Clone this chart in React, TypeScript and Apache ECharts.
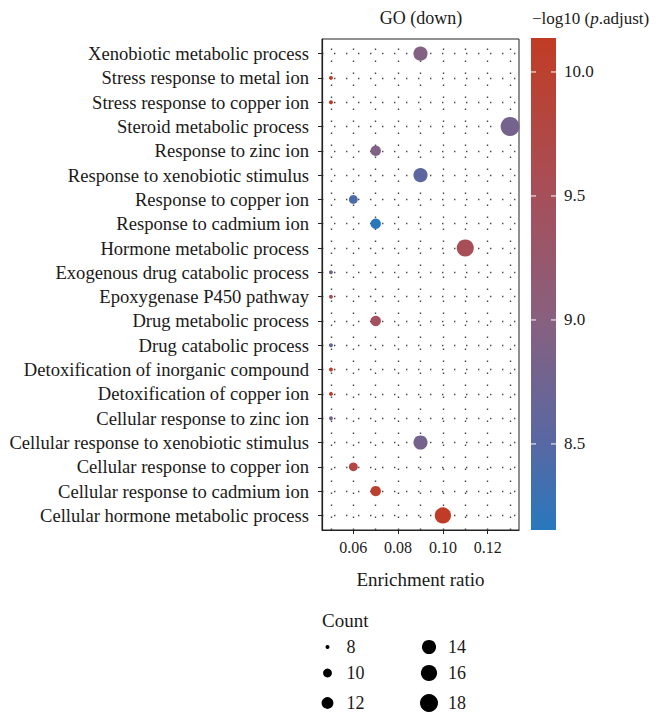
import { useEffect, useRef } from "react";
import * as echarts from "echarts";

// ---- data (top row first, as in the picture) ----
const categories = [
  "Xenobiotic metabolic process",
  "Stress response to metal ion",
  "Stress response to copper ion",
  "Steroid metabolic process",
  "Response to zinc ion",
  "Response to xenobiotic stimulus",
  "Response to copper ion",
  "Response to cadmium ion",
  "Hormone metabolic process",
  "Exogenous drug catabolic process",
  "Epoxygenase P450 pathway",
  "Drug metabolic process",
  "Drug catabolic process",
  "Detoxification of inorganic compound",
  "Detoxification of copper ion",
  "Cellular response to zinc ion",
  "Cellular response to xenobiotic stimulus",
  "Cellular response to copper ion",
  "Cellular response to cadmium ion",
  "Cellular hormone metabolic process",
];
const enrichmentRatio = [0.09, 0.05, 0.05, 0.13, 0.07, 0.09, 0.06, 0.07, 0.11, 0.05, 0.05, 0.07, 0.05, 0.05, 0.05, 0.05, 0.09, 0.06, 0.07, 0.10];
const geneCount = [14, 8, 8, 19, 11, 14, 10, 11, 17, 8, 8, 11, 8, 8, 8, 8, 14, 10, 11, 16];
const negLog10Padj = [8.95, 10.12, 10.12, 8.8, 8.92, 8.55, 8.42, 8.16, 9.55, 8.82, 9.47, 9.45, 8.62, 10.1, 10.1, 8.8, 8.8, 9.8, 10.02, 10.1];

const xTicks = [0.06, 0.08, 0.1, 0.12];
const xGridValues = [0.05, 0.06, 0.07, 0.08, 0.09, 0.1, 0.11, 0.12, 0.13];
const colorTicks = [10.0, 9.5, 9.0, 8.5];
const countBreaks = [8, 10, 12, 14, 16, 18];

// colour scale
const colorMin = 8.153;
const colorMax = 10.137;
const colorStops: [number, string][] = [
  [8.153, "#2878bd"],
  [8.5, "#5768a3"],
  [9.0, "#88607f"],
  [9.5, "#a64f5a"],
  [10.0, "#bb412f"],
  [10.137, "#c13b24"],
];

const FONT = "Liberation Serif";
const TXT = "#1a1a1a";

function hexToRgb(h: string) {
  const n = parseInt(h.slice(1), 16);
  return [(n >> 16) & 255, (n >> 8) & 255, n & 255];
}
function colorAt(v: number) {
  for (let i = 0; i < colorStops.length - 1; i++) {
    const [a, ca] = colorStops[i];
    const [b, cb] = colorStops[i + 1];
    if (v <= b || i === colorStops.length - 2) {
      const t = Math.max(0, Math.min(1, (v - a) / (b - a)));
      const A = hexToRgb(ca), B = hexToRgb(cb);
      const c = A.map((x, k) => Math.round(x + (B[k] - x) * t));
      return `rgb(${c[0]},${c[1]},${c[2]})`;
    }
  }
  return colorStops[colorStops.length - 1][1];
}
const sizeFor = (c: number) => Math.sqrt(Math.max(0, 16 + 30.8 * (c - 8)));

export default function App() {
  const ref = useRef<HTMLDivElement>(null);
  useEffect(() => {
    document.body.style.margin = "0";
    if (!ref.current) return;
    const chart = echarts.init(ref.current, null, { renderer: "svg" });
    const n = categories.length;
    const data = categories.map((_, i) => [enrichmentRatio[i], n - i, negLog10Padj[i], geneCount[i]]);

    const gridLeft = 322, gridTop = 39, gridW = 197, gridH = 491;

    const inRange: string[] = [];
    const N = 60;
    for (let i = 0; i <= N; i++) inRange.push(colorAt(colorMin + ((colorMax - colorMin) * i) / N));

    // colour bar
    const cbX = 531, cbY = 38, cbW = 25, cbH = 492;
    const cbGraphics: any[] = [
      {
        type: "rect",
        shape: { x: cbX, y: cbY, width: cbW, height: cbH },
        style: {
          fill: {
            type: "linear", x: 0, y: 1, x2: 0, y2: 0,
            colorStops: colorStops.map(([v, c]) => ({ offset: (v - colorMin) / (colorMax - colorMin), color: c })),
          },
        },
      },
    ];
    colorTicks.forEach((v) => {
      const y = cbY + ((colorMax - v) / (colorMax - colorMin)) * cbH;
      cbGraphics.push(
        { type: "line", shape: { x1: cbX, y1: y, x2: cbX + 5, y2: y }, style: { stroke: "#fff", lineWidth: 1 } },
        { type: "line", shape: { x1: cbX + cbW - 5, y1: y, x2: cbX + cbW, y2: y }, style: { stroke: "#fff", lineWidth: 1 } },
        { type: "text", x: cbX + cbW + 8, y, style: { text: v.toFixed(1), font: `17px ${FONT}`, fill: TXT, textVerticalAlign: "middle" } }
      );
    });

    // size legend
    const legendGraphics: any[] = [
      { type: "text", x: 322, y: 620, style: { text: "Count", font: `19px ${FONT}`, fill: TXT, textVerticalAlign: "middle" } },
    ];
    const rowY = [647, 673, 703];
    countBreaks.forEach((c, i) => {
      const col = Math.floor(i / 3);
      const r = i % 3;
      const cx = col === 0 ? 327.5 : 429;
      legendGraphics.push(
        { type: "circle", shape: { cx, cy: rowY[r], r: sizeFor(c) / 2 }, style: { fill: "#000" } },
        { type: "text", x: cx + 19, y: rowY[r], style: { text: String(c), font: `18px ${FONT}`, fill: TXT, textVerticalAlign: "middle" } }
      );
    });

    const dotted = { color: "#333", width: 1.4, opacity: 0.9, type: [1.4, 10.6] };

    chart.setOption({
      animation: false,
      backgroundColor: "#fff",
      textStyle: { fontFamily: FONT, color: TXT },
      grid: { left: gridLeft, top: gridTop, width: gridW, height: gridH, show: true, borderColor: "#222", borderWidth: 1, backgroundColor: "transparent" },
      xAxis: {
        type: "value",
        min: 0.046,
        max: 0.134,
        name: "Enrichment ratio",
        nameLocation: "middle",
        nameGap: 40,
        nameTextStyle: { fontFamily: FONT, fontSize: 19, color: TXT },
        axisLine: { show: true, lineStyle: { color: "#222", width: 1.2 } },
        axisTick: { show: true, length: 4, customValues: xTicks, lineStyle: { color: "#222" } },
        axisLabel: { customValues: xTicks, formatter: (v: number) => v.toFixed(2), fontFamily: FONT, fontSize: 16, color: TXT, margin: 9 },
        splitLine: { show: false },
      },
      yAxis: {
        type: "value",
        min: 0.4,
        max: n + 0.6,
        axisLine: { show: true, lineStyle: { color: "#222", width: 1.2 } },
        axisTick: { show: true, length: 4, customValues: categories.map((_, i) => i + 1), lineStyle: { color: "#222" } },
        axisLabel: {
          customValues: categories.map((_, i) => i + 1),
          formatter: (v: number) => categories[n - Math.round(v)] ?? "",
          fontFamily: FONT, fontSize: 18.6, color: TXT, margin: 13,
        },
        splitLine: { show: false },
      },
      visualMap: {
        show: false,
        type: "continuous",
        seriesIndex: 1,
        dimension: 2,
        min: colorMin,
        max: colorMax,
        inRange: { color: inRange },
      },
      series: [
        {
          type: "scatter",
          data: [],
          silent: true,
          z: 1,
          markLine: {
            z: 1,
            silent: true,
            symbol: ["none", "none"],
            label: { show: false },
            animation: false,
            data: [
              ...xGridValues.map((v) => ({ xAxis: v, lineStyle: { ...dotted } })),
              ...categories.map((_, i) => ({ yAxis: i + 1, lineStyle: { ...dotted } })),
            ],
          },
        },
        {
          type: "scatter",
          z: 10,
          data,
          symbol: "circle",
          symbolSize: (val: number[]) => sizeFor(val[3]),
          itemStyle: { opacity: 1 },
        },
      ],
      graphic: [
        { type: "text", x: 421, y: 18, style: { text: "GO (down)", font: `18px ${FONT}`, fill: TXT, textAlign: "center", textVerticalAlign: "middle" } },
        {
          type: "text", x: 532, y: 18,
          style: {
            text: "{a|−log10 (}{b|p}{a|.adjust)}",
            textVerticalAlign: "middle",
            rich: {
              a: { fontFamily: FONT, fontSize: 17, fill: TXT, color: TXT },
              b: { fontFamily: FONT, fontSize: 17, fontStyle: "italic", fill: TXT, color: TXT },
            },
          },
        },
        ...cbGraphics,
        ...legendGraphics,
      ],
    });
    return () => chart.dispose();
  }, []);
  return <div ref={ref} style={{ width: 661, height: 714 }} />;
}
